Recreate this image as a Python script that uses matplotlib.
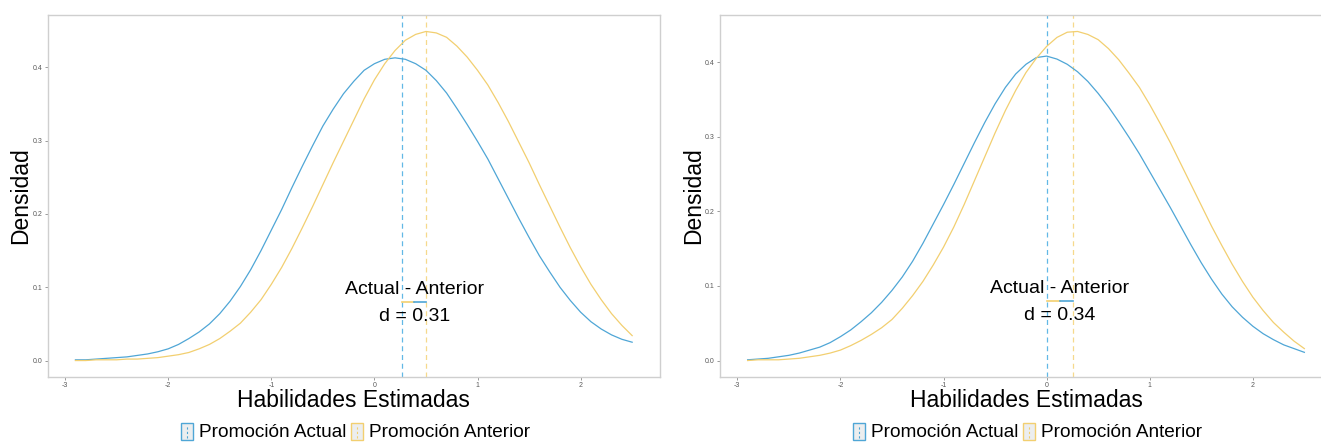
#!/usr/bin/python
#------------------------------------------------------------------------------
# Densidad de habilidades estimadas: promocion actual vs promocion anterior
# Two panels side by side, the right one runs off the edge of the picture.
#------------------------------------------------------------------------------

import matplotlib
matplotlib.use('Agg')
from matplotlib import pyplot as plt
from matplotlib.patches import Rectangle
from matplotlib.lines import Line2D

plt.rcParams['font.family'] = ['Liberation Sans', 'DejaVu Sans']

##############################
# Data
##############################
habilidad = [-2.9, -2.8, -2.7, -2.6, -2.5, -2.4, -2.3, -2.2, -2.1, -2.0,
             -1.9, -1.8, -1.7, -1.6, -1.5, -1.4, -1.3, -1.2, -1.1, -1.0,
             -0.9, -0.8, -0.7, -0.6, -0.5, -0.4, -0.3, -0.2, -0.1, 0.0,
             0.1, 0.2, 0.3, 0.4, 0.5, 0.6, 0.7, 0.8, 0.9, 1.0,
             1.1, 1.2, 1.3, 1.4, 1.5, 1.6, 1.7, 1.8, 1.9, 2.0,
             2.1, 2.2, 2.3, 2.4, 2.5]

# left panel
densActual1 = [0.001, 0.001, 0.002, 0.003, 0.004, 0.005, 0.007, 0.009, 0.012, 0.016,
               0.022, 0.030, 0.039, 0.050, 0.064, 0.081, 0.101, 0.124, 0.150, 0.178,
               0.206, 0.236, 0.265, 0.293, 0.320, 0.343, 0.364, 0.381, 0.396, 0.405,
               0.411, 0.413, 0.411, 0.405, 0.396, 0.382, 0.365, 0.344, 0.322, 0.299,
               0.275, 0.248, 0.221, 0.194, 0.168, 0.143, 0.121, 0.100, 0.082, 0.066,
               0.053, 0.043, 0.035, 0.029, 0.025]
densAnterior1 = [0.000, 0.000, 0.001, 0.001, 0.001, 0.002, 0.002, 0.003, 0.004, 0.006,
                 0.008, 0.011, 0.016, 0.022, 0.030, 0.040, 0.051, 0.066, 0.083, 0.104,
                 0.127, 0.153, 0.181, 0.210, 0.240, 0.270, 0.299, 0.328, 0.357, 0.383,
                 0.405, 0.423, 0.437, 0.445, 0.449, 0.447, 0.441, 0.429, 0.414, 0.396,
                 0.376, 0.352, 0.326, 0.298, 0.270, 0.240, 0.211, 0.182, 0.154, 0.128,
                 0.104, 0.083, 0.064, 0.048, 0.034]

# right panel
densActual2 = [0.001, 0.002, 0.003, 0.005, 0.007, 0.010, 0.014, 0.018, 0.024, 0.032,
               0.041, 0.052, 0.064, 0.078, 0.094, 0.112, 0.133, 0.157, 0.183, 0.209,
               0.236, 0.264, 0.292, 0.319, 0.344, 0.366, 0.384, 0.397, 0.406, 0.408,
               0.404, 0.397, 0.387, 0.374, 0.358, 0.340, 0.320, 0.299, 0.277, 0.253,
               0.229, 0.205, 0.180, 0.155, 0.131, 0.109, 0.089, 0.072, 0.058, 0.046,
               0.036, 0.028, 0.021, 0.016, 0.011]
densAnterior2 = [0.000, 0.001, 0.001, 0.001, 0.002, 0.003, 0.005, 0.007, 0.010, 0.014,
                 0.020, 0.027, 0.035, 0.044, 0.055, 0.070, 0.087, 0.106, 0.128, 0.152,
                 0.179, 0.209, 0.241, 0.273, 0.305, 0.335, 0.362, 0.386, 0.405, 0.421,
                 0.433, 0.440, 0.441, 0.437, 0.430, 0.418, 0.403, 0.385, 0.366, 0.343,
                 0.318, 0.292, 0.264, 0.236, 0.208, 0.180, 0.154, 0.129, 0.106, 0.085,
                 0.067, 0.051, 0.038, 0.026, 0.016]

mediaActual = [0.27, 0.0]
mediaAnterior = [0.505, 0.26]
dLabels = ["d = 0.31", "d = 0.34"]

xTicks = [-3, -2, -1, 0, 1, 2]
yTicks = [0.0, 0.1, 0.2, 0.3, 0.4]
legendLabels = ["Promoción Actual", "Promoción Anterior"]

colActual = '#4FA6D6'
colAnterior = '#F2CF70'
colActualDash = '#62B8E6'
colAnteriorDash = '#F6D98C'

W, H = 1321.0, 444.0
fig = plt.figure(figsize=(W / 100.0, H / 100.0), dpi=100)


def pxRect(x0, y0, w, h):
    """pixel box (top-left origin) -> figure fraction [l, b, w, h]"""
    return [x0 / W, 1 - (y0 + h) / H, w / W, h / H]


def drawPanel(axLeft, actual, anterior, mAct, mAnt, dLab, ymax):
    """one density panel with its labels and legend"""
    ax = fig.add_axes(pxRect(axLeft, 15, 612.4, 362))
    ax.plot(habilidad, actual, color=colActual, lw=0.9, zorder=3)
    ax.plot(habilidad, anterior, color=colAnterior, lw=0.9, zorder=3)
    ax.axvline(mAct, color=colActualDash, lw=0.9, ls=(0, (4, 3)), zorder=2)
    ax.axvline(mAnt, color=colAnteriorDash, lw=0.9, ls=(0, (4, 3)), zorder=2)

    # difference marker
    mid = (mAct + mAnt) / 2.0
    ax.plot([mAct, mid], [0.08, 0.08], color=colAnterior, lw=1.2, zorder=4)
    ax.plot([mid, mAnt], [0.08, 0.08], color=colActual, lw=1.2, zorder=4)
    ax.text(mid, 0.097, "Actual - Anterior", ha='center', va='center', fontsize=14, zorder=5)
    ax.text(mid, 0.060, dLab, ha='center', va='center', fontsize=14, zorder=5)

    ax.set_xlim(-3.17, 2.77)
    ax.set_ylim(-0.05 * ymax, ymax * 1.05)
    ax.set_xticks(xTicks)
    ax.set_xticklabels([str(t) for t in xTicks])
    ax.set_yticks(yTicks)
    ax.set_yticklabels(['%.1f' % t for t in yTicks])
    ax.tick_params(labelsize=5, labelcolor='#5A5A5A', color='#8A8A8A', length=2, width=0.6, pad=1.5)
    for s in ax.spines.values():
        s.set_color('#CFCFCF')
        s.set_linewidth(1.0)

    fig.text((axLeft - 26.6) / W, 1 - 196.0 / H, "Densidad", rotation=90,
             ha='center', va='center', fontsize=16.5)
    fig.text((axLeft + 306.2) / W, 1 - 400.0 / H, "Habilidades Estimadas",
             ha='center', va='center', fontsize=16.5)

    # legend drawn by hand: grey key with coloured outline and dashed line
    keyOff = [133.5, 303.5]
    txtOff = [151.0, 321.0]
    keyCols = [colActual, colAnterior]
    for i in range(2):
        kx = axLeft + keyOff[i]
        fig.add_artist(Rectangle((kx / W, 1 - 440.0 / H), 12.0 / W, 17.0 / H,
                                 transform=fig.transFigure, facecolor='#ECEEEF',
                                 edgecolor=keyCols[i], lw=1.0))
        fig.add_artist(Line2D([(kx + 6) / W, (kx + 6) / W], [1 - 438.0 / H, 1 - 425.0 / H],
                              transform=fig.transFigure, color=keyCols[i], lw=0.8, ls=(0, (2, 2))))
        fig.text((axLeft + txtOff[i]) / W, 1 - 432.0 / H, legendLabels[i],
                 ha='left', va='center', fontsize=13.7)
    return ax


drawPanel(47.6, densActual1, densAnterior1, mediaActual[0], mediaAnterior[0], dLabels[0], 0.449)
drawPanel(719.8, densActual2, densAnterior2, mediaActual[1], mediaAnterior[1], dLabels[1], 0.441)

fig.savefig("out.png", dpi=100, facecolor='w')
